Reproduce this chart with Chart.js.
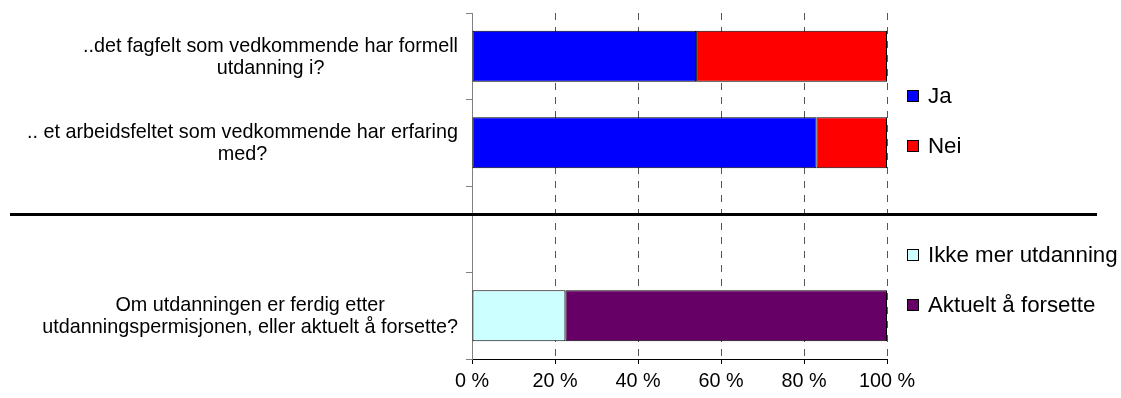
<!DOCTYPE html>
<html>
<head>
<meta charset="utf-8">
<script src="https://cdn.jsdelivr.net/npm/chart.js@4/dist/chart.umd.min.js"></script>
<style>
  html, body { margin: 0; padding: 0; background: #fff; }
  #wrap { width: 1121px; height: 398px; }
</style>
</head>
<body>
<div id="wrap"><canvas id="chart" width="1121" height="398"></canvas></div>
<script>
// Questions (the third slot is left blank, the divider runs through it)
const questions = [
    ["..det fagfelt som vedkommende har formell", "utdanning i?"],
    [".. et arbeidsfeltet som vedkommende har erfaring", "med?"],
    "",
    ["Om utdanningen er ferdig etter", "utdanningspermisjonen, eller aktuelt å forsette?"]
];

// Shares in percent
const jaValues = [54, 83, null, null];
const neiValues = [46, 17, null, null];
const ikkeMerValues = [null, null, null, 22.5];
const aktueltValues = [null, null, null, 77.5];

const xTicks = [0, 20, 40, 60, 80, 100];

const FONT = '"Liberation Sans", Arial, sans-serif';
const LABEL_SIZE = 19.8;
const LEGEND_SIZE = 22.3;

// y rows for the legend entries, top to bottom
const legendRows = [96, 146, 255, 305];
const DIVIDER_AT = 1.83; // category index where the separator line sits

// Draws the wrapped question labels: each block right aligned, lines centred in it
const questionLabels = {
    id: "questionLabels",
    afterDraw(chart) {
        const ctx = chart.ctx;
        const yScale = chart.scales.y;
        const right = chart.chartArea.left - 14;
        ctx.save();
        ctx.font = `${LABEL_SIZE}px ${FONT}`;
        ctx.fillStyle = "#000";
        ctx.textAlign = "center";
        ctx.textBaseline = "middle";
        questions.forEach((q, i) => {
            const lines = Array.isArray(q) ? q : [q];
            if (!lines[0]) return;
            const blockW = Math.max(...lines.map(l => ctx.measureText(l).width));
            const cx = right - blockW / 2;
            const lh = 22;
            const y0 = yScale.getPixelForTick(i) - (lines.length - 1) * lh / 2 + 1;
            lines.forEach((l, j) => ctx.fillText(l, cx, y0 + j * lh));
        });
        ctx.restore();
    }
};

// Thick separator between the two question groups
const divider = {
    id: "divider",
    afterDraw(chart) {
        const ctx = chart.ctx;
        const y = chart.scales.y.getPixelForValue(DIVIDER_AT);
        ctx.save();
        ctx.strokeStyle = "#000";
        ctx.lineWidth = 3;
        ctx.beginPath();
        ctx.moveTo(10, y);
        ctx.lineTo(1097, y);
        ctx.stroke();
        ctx.restore();
    }
};

// Legend on the right, one row per series
const sideLegend = {
    id: "sideLegend",
    afterDraw(chart) {
        const ctx = chart.ctx;
        const x = chart.chartArea.right + 20;
        ctx.save();
        ctx.font = `${LEGEND_SIZE}px ${FONT}`;
        ctx.textBaseline = "middle";
        chart.data.datasets.forEach((ds, i) => {
            const y = legendRows[i];
            ctx.fillStyle = ds.backgroundColor;
            ctx.fillRect(x + 0.5, y - 5.5, 11, 11);
            ctx.strokeStyle = "#000";
            ctx.lineWidth = 1;
            ctx.strokeRect(x + 0.5, y - 5.5, 11, 11);
            ctx.fillStyle = "#000";
            ctx.fillText(ds.label, x + 21, y + 1);
        });
        ctx.restore();
    }
};

function makeSeries(label, data, color) {
    return {
        label: label,
        data: data,
        backgroundColor: color,
        borderColor: "#000",
        borderWidth: 1,
        borderSkipped: false,
        barPercentage: 0.59,
        categoryPercentage: 1
    };
}

new Chart(document.getElementById("chart"), {
    type: "bar",
    data: {
        labels: questions,
        datasets: [
            makeSeries("Ja", jaValues, "#0000ff"),
            makeSeries("Nei", neiValues, "#ff0000"),
            makeSeries("Ikke mer utdanning", ikkeMerValues, "#ccffff"),
            makeSeries("Aktuelt å forsette", aktueltValues, "#660066")
        ]
    },
    options: {
        indexAxis: "y",
        responsive: false,
        animation: false,
        devicePixelRatio: 1,
        layout: { padding: { top: 13, right: 234, bottom: 0, left: 0 } },
        plugins: {
            legend: { display: false },
            tooltip: { enabled: false }
        },
        scales: {
            x: {
                stacked: true,
                min: 0,
                max: 100,
                afterBuildTicks: (scale) => {
                    scale.ticks = xTicks.map(v => ({ value: v }));
                },
                afterFit: (scale) => { scale.height = 39; },
                ticks: {
                    color: "#000",
                    font: { family: FONT, size: LABEL_SIZE },
                    padding: 6,
                    maxRotation: 0,
                    callback: (v) => `${v} %`
                },
                grid: {
                    color: "#555",
                    lineWidth: 1,
                    tickColor: "#000",
                    tickLength: 5,
                    tickBorderDash: []
                },
                border: { color: "#000", width: 1, dash: [7, 7] }
            },
            y: {
                stacked: true,
                offset: true,
                afterFit: (scale) => { scale.width = 472; },
                ticks: { display: false },
                grid: {
                    offset: true,
                    drawOnChartArea: false,
                    tickColor: "#808080",
                    tickLength: 6
                },
                border: { color: "#808080", width: 1 }
            }
        }
    },
    plugins: [questionLabels, divider, sideLegend]
});
</script>
</body>
</html>
